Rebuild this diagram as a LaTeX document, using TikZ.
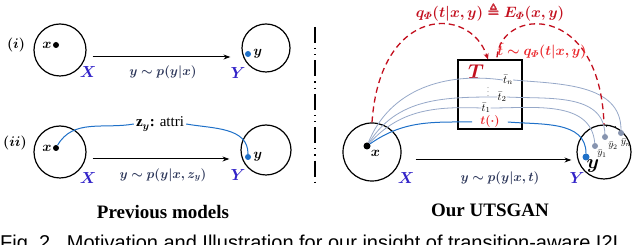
\RequirePackage{fix-cm}
\documentclass[tikz,border=0pt]{standalone}
\usepackage{amsmath}
\usepackage{amssymb}
\usepackage{bm}
\usepackage{fontspec}
\setmainfont{Liberation Serif}
\newfontfamily\capfont{Liberation Sans}
\usetikzlibrary{arrows.meta, positioning, calc}
\definecolor{setblue}{RGB}{50,35,200}
\definecolor{mapgray}{RGB}{45,55,90}
\definecolor{pathblue}{RGB}{30,112,200}
\definecolor{pathgray}{RGB}{150,168,200}
\definecolor{dotgray}{RGB}{135,148,175}
\definecolor{encred}{RGB}{195,15,30}
\definecolor{samplered}{RGB}{235,40,45}

\begin{document}
\begin{tikzpicture}[x=1pt, y=-1pt,
    every node/.style={inner sep=1pt},
    domain/.style={circle, draw, line width=1.2pt, minimum size=#1, inner sep=0pt},
    spot/.style={circle, fill, inner sep=0pt, minimum size=#1},
    setlab/.style={text=setblue, font=\fontsize{16}{16}\selectfont},
    maplab/.style={text=mapgray, font=\fontsize{13}{13}\selectfont},
    ptlab/.style={font=\fontsize{14}{14}\selectfont},
    maparrow/.style={-{Stealth[length=7pt, width=5pt]}, line width=1pt},
    soft/.style={pathgray, line width=0.8pt},
    firm/.style={pathblue, line width=1pt},
    encode/.style={encred, line width=1.3pt, dash pattern=on 6pt off 4pt},
    tinylab/.style={fill=white, inner sep=0pt, font=\fontsize{11}{11}\selectfont},
    outlab/.style={inner sep=0pt, font=\fontsize{10}{10}\selectfont},
    title/.style={font=\bfseries\fontsize{19}{19}\selectfont}]

\useasboundingbox (0,0) rectangle (640,245);

% (i) plain mapping
\node[ptlab] at (16,45) {$\bm{(i)}$};
\node[domain=52pt] (Xi) at (60,50) {};
\node[spot=6pt] (xi) at (56,45) {};
\node[ptlab, left=0pt of xi] {$\bm{x}$};
\node[setlab] at (88,72) {$\bm{X}$};
\node[domain=48pt] (Yi) at (266,48) {};
\node[spot=6pt, pathblue] (yi) at (248,54) {};
\node[ptlab, right=1pt of yi] {$\bm{y}$};
\node[setlab] at (238,73) {$\bm{Y}$};
\draw[maparrow] ($(Xi.east)+(6,7)$) -- ($(Yi.west)+(-11,9)$);
\node[maplab] at (163,72) {$\bm{y\sim p(y|x)}$};

% (ii) mapping with attribute
\node[ptlab] at (15,143) {$\bm{(ii)}$};
\node[domain=52pt] (Xii) at (60,152) {};
\node[spot=6pt] (xii) at (56,148) {};
\node[ptlab, left=0pt of xii] {$\bm{x}$};
\node[setlab] at (88,178) {$\bm{X}$};
\node[domain=50pt] (Yii) at (266,150) {};
\node[spot=6pt, pathblue] (yii) at (248,157) {};
\node[ptlab, right=1pt of yii] {$\bm{y}$};
\node[setlab] at (238,175) {$\bm{Y}$};
\draw[maparrow] ($(Xii.east)+(6,7)$) -- ($(Yii.west)+(-11,9)$);
\node[maplab] at (163,175) {$\bm{y\sim p(y|x,z_y)}$};
\node[font=\fontsize{15}{15}\selectfont, inner sep=2pt] (zy) at (160,124)
    {$\mathbf{z}_{\bm{y}}$\textbf{:} attri};
\draw[firm] (xii) to[out=60, in=190] (zy.west);
\draw[firm] (zy.east) to[out=-10, in=90] (yii);

\node[title] at (163,212) {Previous models};

% divider
\draw[line width=1.2pt, dash pattern=on 16pt off 5pt on 1.2pt off 5pt on 1.2pt off 5pt]
    (315,27) -- (315,182);

% UTSGAN
\node[domain=58pt] (Xt) at (372,152) {};
\node[spot=7pt] (xt) at (367,146) {};
\node[ptlab, below right=0pt and 0pt of xt] {$\bm{x}$};
\node[setlab] at (406,178) {$\bm{X}$};
\node[domain=54pt] (Yt) at (604,152) {};
\node[setlab] at (577,178) {$\bm{Y}$};
\draw[maparrow] ($(Xt.east)+(14,8)$) -- ($(Yt.west)+(-5,8)$);
\node[maplab] at (500,178) {$\bm{y\sim p(y|x,t)}$};

\node[draw, line width=1.2pt, minimum width=64pt, minimum height=69pt, inner sep=0pt]
    (T) at (490,94.5) {};
\node[text=encred, font=\fontsize{20}{20}\selectfont] at (476,72) {$\bm{T}$};
\node[tinylab] (tn) at (508,80) {$\bar{t}_n$};
\node[inner sep=0pt, font=\fontsize{6}{6}\selectfont] at (488,89) {$\vdots$};
\node[tinylab] (t2) at (502,97) {$\bar{t}_2$};
\node[tinylab] (t1) at (486,108) {$\bar{t}_1$};
\node[text=samplered, inner xsep=8pt, font=\fontsize{12}{12}\selectfont] (tf) at (490,122) {$\bm{t(\cdot)}$};

\node[spot=7pt, pathblue] (yt) at (586,157) {};
\node[spot=6pt, dotgray] (y1) at (595,146) {};
\node[spot=6pt, dotgray] (y2) at (605,137) {};
\node[spot=6pt, dotgray] (yn) at (621,133) {};

\draw[soft] (xt) to[out=68, in=172] (tn.west);
\draw[soft] (tn.east) to[out=-5, in=90] (yn);
\draw[soft] (xt) to[out=58, in=180] (t2.west);
\draw[soft] (t2.east) to[out=-3, in=92] (y2);
\draw[soft] (xt) to[out=48, in=178] (t1.west);
\draw[soft] (t1.east) to[out=0, in=95] (y1);
\draw[firm] (xt) to[out=35, in=180] (tf.west);
\draw[firm] (tf.east) to[out=-5, in=90] (yt);

\node[font=\fontsize{20}{20}\selectfont] at (593,166) {$\bm{y}$};
\node[outlab] at (602,154) {$\bar{y}_1$};
\node[outlab] at (613,146) {$\bar{y}_2$};
\node[outlab] at (626,143) {$\bar{y}_n$};
\node[outlab] at (612,127) {$\cdots$};

\draw[encode, -{Stealth[length=6pt, width=5pt]}] (Xt.north)
    .. controls (380,5) and (470,5) .. ([xshift=-2pt]T.north);
\draw[encode] ([xshift=7pt, yshift=2pt]T.north)
    .. controls (500,8) and (600,0) .. (Yt.north);
\node[text=encred, font=\fontsize{15}{15}\selectfont] (qlab) at (490,12)
    {$\bm{q_{\varPhi}(t|x,y)\triangleq E_{\varPhi}(x,y)}$};
\node[text=samplered, font=\fontsize{14}{14}\selectfont] (tlab) at (542,51)
    {$\bm{\tilde{t}\sim q_{\varPhi}(t|x,y)}$};

\node[title] at (490,210) {Our UTSGAN};

\node[anchor=base west, inner sep=0pt, font=\capfont\fontsize{20}{20}\selectfont] at (0,250)
    {Fig.\ 2.\ \ Motivation and Illustration for our insight of transition-aware I2I};
\end{tikzpicture}
\end{document}
